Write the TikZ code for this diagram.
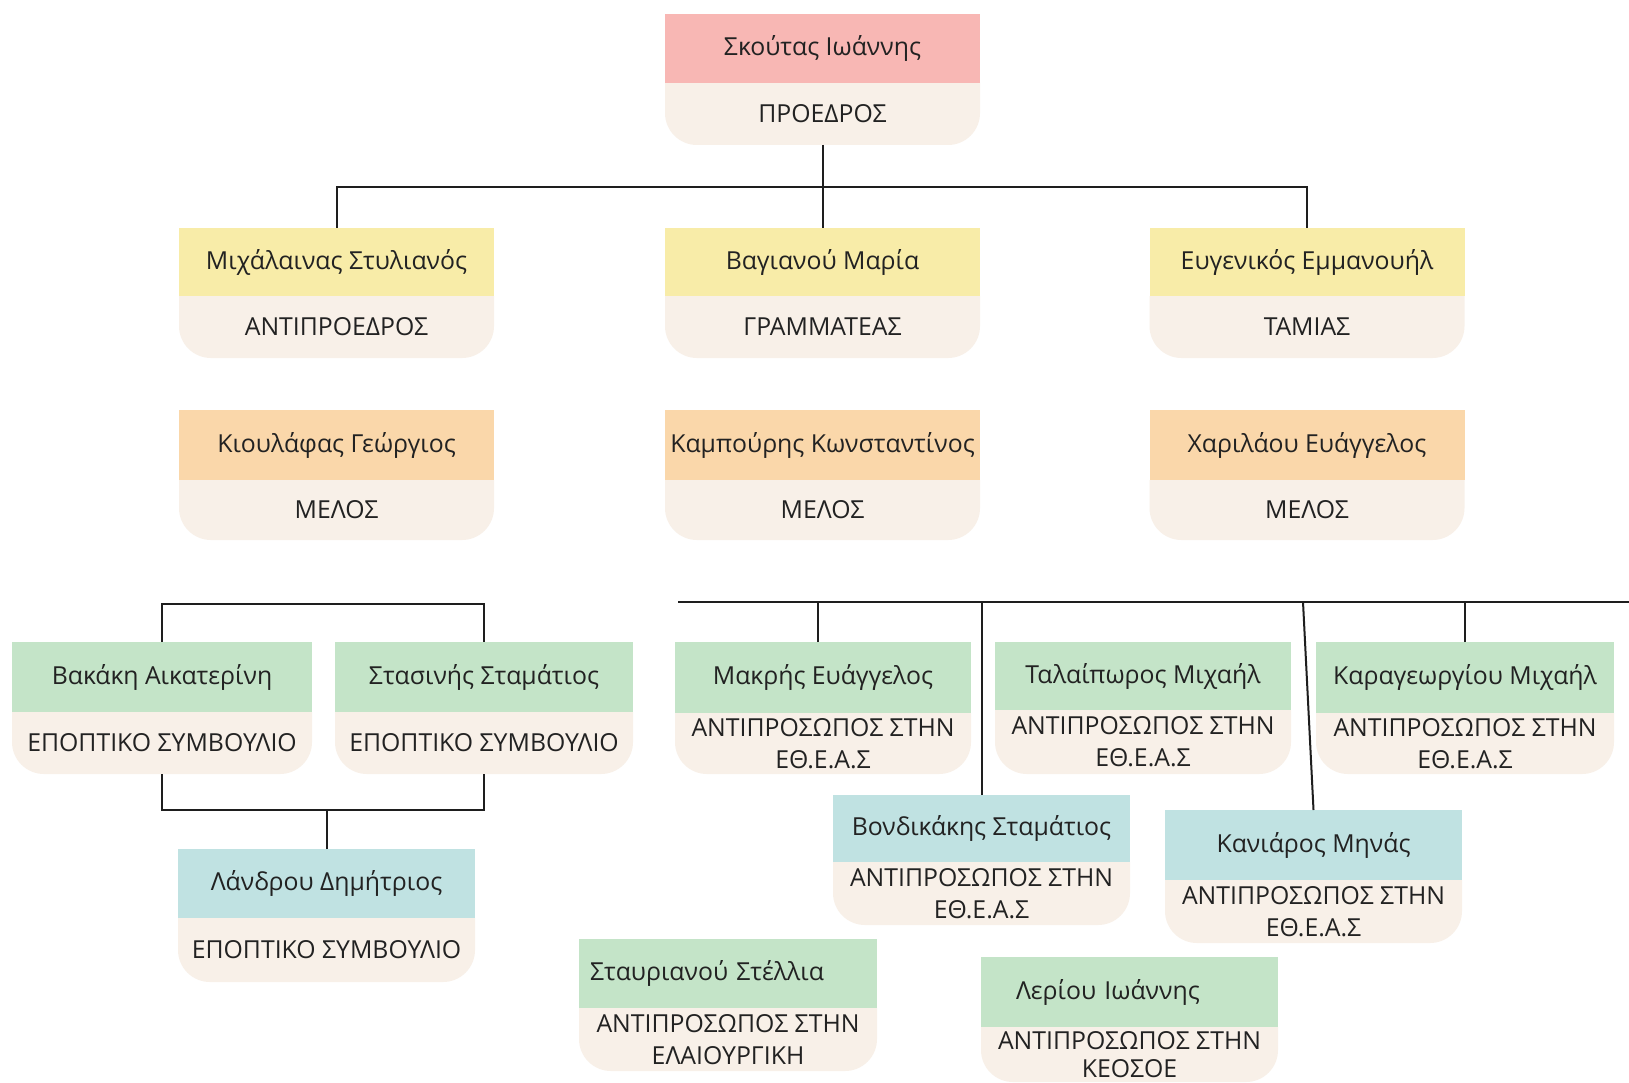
\documentclass[tikz,border=0pt]{standalone}
\usepackage{fontspec}
\setmainfont{Open Sans}
\usetikzlibrary{backgrounds}
\definecolor{pinkh}{HTML}{F8B7B4}
\definecolor{yelh}{HTML}{F8ECA8}
\definecolor{orah}{HTML}{FAD7AA}
\definecolor{greh}{HTML}{C4E4C8}
\definecolor{bluh}{HTML}{C0E2E2}
\definecolor{cream}{HTML}{F8F0E8}
\definecolor{txt}{HTML}{222222}
\definecolor{linec}{HTML}{1E1E1E}
\tikzset{
  hdr/.style={rectangle, inner sep=4pt, outer sep=0pt, text=txt, font=\fontsize{24.8}{32}\selectfont},
  ftr/.style={rectangle, inner sep=2pt, outer sep=0pt, text=txt, align=center, font=\fontsize{24.8}{32}\selectfont},
  link/.style={draw=linec, line width=2pt},
}
% #1 opts, #2 name, #3 (x,top), #4 width, #5 header h, #6 foot h, #7 colour, #8 name text, #9 role text
\newcommand{\orgbox}[9][]{%
  \node[hdr, fill=#7, minimum width=#4pt, minimum height=#5pt, anchor=north, #1] (#2) at (#3) {#8};
  \node[ftr, minimum width=#4pt, minimum height=#6pt, anchor=north] (#2r) at (#2.south) {#9};
  \begin{pgfonlayer}{background}
    \fill[cream] (#2r.north west) [rounded corners=32pt] -- (#2r.south west) -- (#2r.south east) [sharp corners] -- (#2r.north east) -- cycle;
  \end{pgfonlayer}
}
\begin{document}
\begin{tikzpicture}[x=1pt,y=-1pt]
\begin{pgfonlayer}{background}
\fill[white] (0,0) rectangle (1629,1083);
\end{pgfonlayer}
\useasboundingbox (0,0) rectangle (1629,1083);
\clip (0,0) rectangle (1629,1083);

% top
\orgbox{pres}{822.5,14}{315}{69}{62}{pinkh}{Σκούτας Ιωάννης}{ΠΡΟΕΔΡΟΣ}
% row 2
\orgbox{vp}{336.5,228}{315}{68}{62}{yelh}{Μιχάλαινας Στυλιανός}{ΑΝΤΙΠΡΟΕΔΡΟΣ}
\orgbox{sec}{822.5,228}{315}{68}{62}{yelh}{Βαγιανού Μαρία}{ΓΡΑΜΜΑΤΕΑΣ}
\orgbox{tre}{1307,228}{315}{68}{62}{yelh}{Ευγενικός Εμμανουήλ}{ΤΑΜΙΑΣ}
% row 3
\orgbox{m1}{336.5,410}{315}{70}{60}{orah}{Κιουλάφας Γεώργιος}{ΜΕΛΟΣ}
\orgbox{m2}{822.5,410}{315}{70}{60}{orah}{Καμπούρης Κωνσταντίνος}{ΜΕΛΟΣ}
\orgbox{m3}{1307,410}{315}{70}{60}{orah}{Χαριλάου Ευάγγελος}{ΜΕΛΟΣ}
% supervisory board
\orgbox{bak}{162,642}{300}{70}{62}{greh}{Βακάκη Αικατερίνη}{ΕΠΟΠΤΙΚΟ ΣΥΜΒΟΥΛΙΟ}
\orgbox{sta}{484,642}{298}{70}{62}{greh}{Στασινής Σταμάτιος}{ΕΠΟΠΤΙΚΟ ΣΥΜΒΟΥΛΙΟ}
\orgbox{lan}{326.5,849}{297}{69}{64}{bluh}{Λάνδρου Δημήτριος}{ΕΠΟΠΤΙΚΟ ΣΥΜΒΟΥΛΙΟ}
% representatives
\orgbox{mak}{823,642}{296}{71}{61}{greh}{Μακρής Ευάγγελος}{ΑΝΤΙΠΡΟΣΩΠΟΣ ΣΤΗΝ\\ΕΘ.Ε.Α.Σ}
\orgbox{tal}{1143,642}{296}{68}{64}{greh}{Ταλαίπωρος Μιχαήλ}{ΑΝΤΙΠΡΟΣΩΠΟΣ ΣΤΗΝ\\ΕΘ.Ε.Α.Σ}
\orgbox{kar}{1465,642}{298}{71}{61}{greh}{Καραγεωργίου Μιχαήλ}{ΑΝΤΙΠΡΟΣΩΠΟΣ ΣΤΗΝ\\ΕΘ.Ε.Α.Σ}
\orgbox{von}{981.5,795}{297}{67}{63}{bluh}{Βονδικάκης Σταμάτιος}{ΑΝΤΙΠΡΟΣΩΠΟΣ ΣΤΗΝ\\ΕΘ.Ε.Α.Σ}
\orgbox{kan}{1313.5,810}{297}{70}{63}{bluh}{Κανιάρος Μηνάς}{ΑΝΤΙΠΡΟΣΩΠΟΣ ΣΤΗΝ\\ΕΘ.Ε.Α.Σ}
\orgbox[text width=276pt, align=left, inner xsep=11pt]{sta2}{728,939}{298}{69}{63}{greh}{Σταυριανού Στέλλια}{ΑΝΤΙΠΡΟΣΩΠΟΣ ΣΤΗΝ\\ΕΛΑΙΟΥΡΓΙΚΗ}
\orgbox[text width=227pt, align=left, inner xsep=35pt]{ler}{1129.5,957}{297}{70}{55}{greh}{Λερίου Ιωάννης}{ΑΝΤΙΠΡΟΣΩΠΟΣ ΣΤΗΝ\\[-4pt]ΚΕΟΣΟΕ}

% connectors: board
\draw[link] (presr.south) -- ++(0,42) coordinate (pj);
\draw[link] (vp.north) |- (pj) -| (tre.north);
\draw[link] (pj) -- (sec.north);
% supervisory
\draw[link] (bak.north) -- ++(0,-38) -| (sta.north);
\draw[link] (bakr.south) -- ++(0,36) -| (star.south);
\draw[link] (lan.north) -- ++(0,-39);
% representatives
\coordinate (rl) at (678,602);
\coordinate (rr) at (1629,602);
\coordinate (kt) at (1303,602);
\draw[link] (rl) -- (rr);
\draw[link] ([xshift=-5pt]mak.north) -- ([xshift=-5pt]mak.north |- rl);
\draw[link] (von.north) -- (von.north |- rl);
\draw[link] (kan.north) -- (kt);
\draw[link] (kar.north) -- (kar.north |- rl);
\end{tikzpicture}
\end{document}
